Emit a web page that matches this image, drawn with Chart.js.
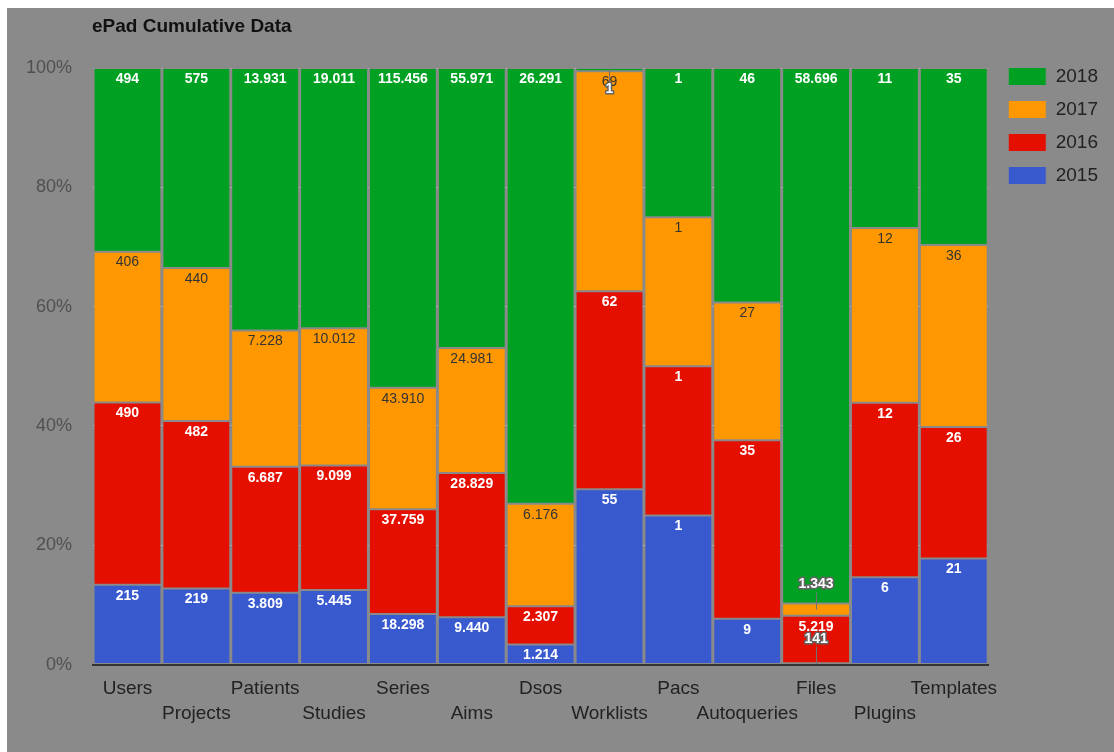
<!DOCTYPE html>
<html>
<head>
<meta charset="utf-8">
<title>ePad Cumulative Data</title>
<script src="https://cdn.jsdelivr.net/npm/chart.js@4.4.1/dist/chart.umd.min.js"></script>
<style>
  html, body { margin: 0; background: #fff; }
  #wrap { position: absolute; left: 7px; top: 8px; width: 1107px; height: 744px; background: #8a8a8a; }
</style>
</head>
<body>
<div id="wrap"><canvas id="epadChart" width="1107" height="744"></canvas></div>
<script>
// counts per resource type, one array per year
const categories = ['Users', 'Projects', 'Patients', 'Studies', 'Series', 'Aims', 'Dsos',
                    'Worklists', 'Pacs', 'Autoqueries', 'Files', 'Plugins', 'Templates'];
const years = ['2015', '2016', '2017', '2018'];
const counts2015 = [215, 219, 3809, 5445, 18298, 9440, 1214, 55, 1, 9, 141, 6, 21];
const counts2016 = [490, 482, 6687, 9099, 37759, 28829, 2307, 62, 1, 35, 5219, 12, 26];
const counts2017 = [406, 440, 7228, 10012, 43910, 24981, 6176, 69, 1, 27, 1343, 12, 36];
const counts2018 = [494, 575, 13931, 19011, 115456, 55971, 26291, 1, 1, 46, 58696, 11, 35];
const yearColors = ['#3959cf', '#e50f00', '#ff9800', '#00a123'];

const FONT = "'Liberation Sans', Arial, Helvetica, sans-serif";
const BG = '#8a8a8a';

const allCounts = [counts2015, counts2016, counts2017, counts2018];
const totals = categories.map((_, i) => allCounts.reduce((s, arr) => s + arr[i], 0));
const fmt = v => String(v).replace(/\B(?=(\d{3})+(?!\d))/g, '.');

// values on the segments; tiny segments get an outlined label pulled out on a leader line
const segmentLabels = {
  id: 'segmentLabels',
  afterDatasetsDraw(chart) {
    const ctx = chart.ctx;
    const area = chart.chartArea;
    ctx.save();
    ctx.textAlign = 'center';
    ctx.textBaseline = 'middle';
    chart.data.datasets.forEach((ds, di) => {
      chart.getDatasetMeta(di).data.forEach((bar, i) => {
        const text = fmt(ds.counts[i]);
        const top = Math.min(bar.y, bar.base);
        const h = Math.abs(bar.base - bar.y);
        if (h >= 16) {
          ctx.font = (ds.labelBold ? 'bold ' : '') + '14px ' + FONT;
          ctx.fillStyle = ds.labelColor;
          ctx.fillText(text, bar.x, top + 11);
        } else {
          const mid = top + h / 2;
          let y = mid - 25;
          if (y < area.top + 12) y = mid + 20;
          const x = Math.round(bar.x) + 0.5;
          ctx.strokeStyle = '#707070';
          ctx.lineWidth = 1;
          ctx.beginPath();
          ctx.moveTo(x, y < mid ? y + 8 : y - 8);
          ctx.lineTo(x, mid);
          ctx.stroke();
          ctx.font = 'bold 14px ' + FONT;
          ctx.lineJoin = 'round';
          ctx.lineWidth = 3;
          ctx.strokeStyle = '#626262';
          ctx.strokeText(text, bar.x, y);
          ctx.fillStyle = '#fff';
          ctx.fillText(text, bar.x, y);
        }
      });
    });
    ctx.restore();
  }
};

const chartTitle = {
  id: 'chartTitle',
  afterLayout(chart) {
    // legend sits level with the top of the plot
    chart.legend.left = chart.chartArea.right + 6;
    chart.legend.top = chart.chartArea.top - 15;
  },
  afterDraw(chart) {
    const ctx = chart.ctx;
    ctx.save();
    ctx.font = 'bold 19px ' + FONT;
    ctx.fillStyle = '#111';
    ctx.textAlign = 'left';
    ctx.textBaseline = 'middle';
    ctx.fillText('ePad Cumulative Data', 85, 19);
    ctx.restore();
  }
};

const datasets = years.map((yr, k) => ({
  label: yr,
  data: allCounts[k].map((v, i) => v / totals[i] * 100),
  counts: allCounts[k],
  backgroundColor: yearColors[k],
  borderColor: BG,
  borderWidth: 1,
  borderSkipped: false,
  categoryPercentage: 0.985,
  barPercentage: 1,
  labelColor: k === 2 ? '#333' : '#fff',
  labelBold: k !== 2
}));

new Chart(document.getElementById('epadChart'), {
  type: 'bar',
  data: { labels: categories, datasets },
  options: {
    responsive: false,
    animation: false,
    devicePixelRatio: 1,
    layout: { padding: { top: 60, left: -2, right: 12, bottom: 22 } },
    plugins: {
      tooltip: { enabled: false },
      legend: {
        position: 'right',
        align: 'start',
        fullSize: false,
        reverse: true,
        labels: {
          boxWidth: 38,
          boxHeight: 18,
          padding: 14,
          color: '#222',
          font: { family: FONT, size: 19 }
        }
      }
    },
    scales: {
      x: {
        stacked: true,
        grid: { display: false },
        border: { display: true, color: '#333', width: 2 },
        ticks: {
          autoSkip: false,
          maxRotation: 0,
          padding: 4,
          color: '#222',
          font: { family: FONT, size: 19, lineHeight: 1.3 },
          // alternate names drop to a second row
          callback(value, index) {
            const name = categories[index];
            return index % 2 ? ['', name] : name;
          }
        },
        afterFit(scale) {
          scale.paddingLeft = 0;
          scale.paddingRight = 0;
        }
      },
      y: {
        stacked: true,
        min: 0,
        max: 100,
        border: { display: false },
        grid: { color: '#b2b2b2', drawTicks: false },
        ticks: {
          stepSize: 20,
          padding: 21,
          color: '#505050',
          font: { family: FONT, size: 18 },
          callback: v => v + '%'
        }
      }
    }
  },
  plugins: [segmentLabels, chartTitle]
});
</script>
</body>
</html>
